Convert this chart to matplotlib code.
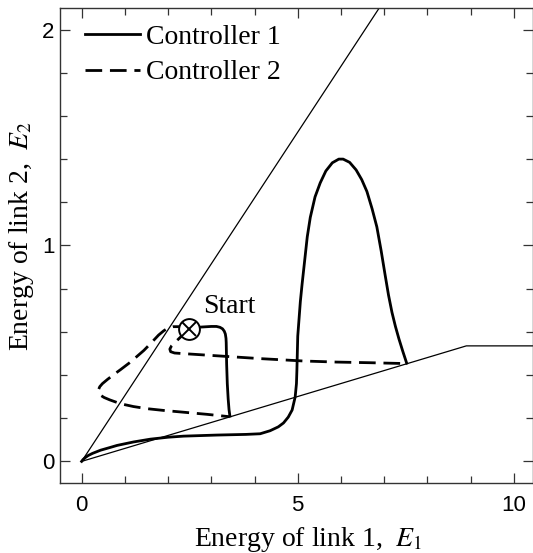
#!/usr/bin/env python3
"""Energy trajectories of the two controllers in the (E1, E2) plane."""

import matplotlib
matplotlib.use("Agg")
import matplotlib.pyplot as plt
from matplotlib.ticker import MultipleLocator

plt.rcParams["font.family"] = ["Liberation Serif", "DejaVu Serif"]
plt.rcParams["mathtext.fontset"] = "stix"

# boundary lines of the region
UPPER_X = [0.0, 7.0]
UPPER_Y = [0.0, 2.135]
LOWER_X = [0.0, 8.9, 10.6]
LOWER_Y = [0.0, 0.535, 0.535]

# controller 1: from the origin over the hump to the lower line
C1_MAIN_X = [0.0, 0.03, 0.08, 0.15, 0.25, 0.44, 0.65, 0.82, 1.2, 1.59, 2.0,
             2.36, 3.13, 3.8, 4.13, 4.36, 4.55, 4.67, 4.78, 4.87, 4.94, 4.97,
             4.98, 4.99, 5.0, 5.03, 5.06, 5.10, 5.16, 5.22, 5.29, 5.40, 5.52,
             5.65, 5.80, 5.95, 6.05, 6.20, 6.35, 6.48, 6.60, 6.72, 6.83, 6.93,
             7.02, 7.10, 7.18, 7.26, 7.34, 7.43, 7.52]
C1_MAIN_Y = [0.0, 0.008, 0.017, 0.027, 0.037, 0.052, 0.064, 0.074, 0.09,
             0.103, 0.112, 0.117, 0.122, 0.125, 0.128, 0.142, 0.16, 0.178,
             0.205, 0.238, 0.298, 0.36, 0.42, 0.50, 0.58, 0.66, 0.74, 0.82,
             0.93, 1.04, 1.13, 1.225, 1.29, 1.345, 1.383, 1.40, 1.40, 1.385,
             1.35, 1.305, 1.25, 1.17, 1.086, 0.975, 0.865, 0.77, 0.69, 0.625,
             0.568, 0.51, 0.455]
# controller 1: from the start point down to the lower line
C1_START_X = [2.49, 2.75, 3.0, 3.12, 3.2, 3.26, 3.30, 3.325, 3.34, 3.345,
              3.355, 3.37, 3.39, 3.41, 3.43]
C1_START_Y = [0.615, 0.622, 0.625, 0.625, 0.621, 0.614, 0.603, 0.59, 0.57,
              0.55, 0.45, 0.36, 0.29, 0.24, 0.21]

# controller 2: loop to the left, then along the lower side
C2_LOOP_X = [2.49, 2.3, 2.12, 2.0, 1.9, 1.78, 1.63, 1.44, 1.13, 0.9, 0.75,
             0.6, 0.48, 0.42, 0.39, 0.40, 0.44, 0.52, 0.65, 0.9, 1.2, 1.52,
             1.9, 2.29, 2.9, 3.42]
C2_LOOP_Y = [0.615, 0.624, 0.624, 0.618, 0.605, 0.585, 0.553, 0.514, 0.46,
             0.425, 0.403, 0.38, 0.36, 0.346, 0.332, 0.318, 0.306, 0.296,
             0.285, 0.267, 0.254, 0.244, 0.236, 0.229, 0.218, 0.207]
# controller 2: short branch then across to the right
C2_RIGHT_X = [2.49, 2.42, 2.30, 2.17, 2.08, 2.04, 2.06, 2.15, 2.29, 2.6,
              3.06, 4.13, 5.13, 5.9, 6.67, 7.52]
C2_RIGHT_Y = [0.615, 0.60, 0.578, 0.553, 0.535, 0.52, 0.508, 0.502, 0.50,
              0.496, 0.49, 0.476, 0.465, 0.46, 0.457, 0.453]

START = (2.49, 0.615)

XLIM = (-0.5, 10.45)
YLIM = (-0.1, 2.1)

fig = plt.figure(figsize=(5.33, 5.53), dpi=100)
ax = fig.add_axes([0.1126, 0.1266, 0.888, 0.859])

thin = dict(color="black", linewidth=0.9)
ax.plot(UPPER_X, UPPER_Y, **thin)
ax.plot(LOWER_X, LOWER_Y, **thin)

dashes = (0, (6.0, 2.8))
ax.plot(C1_MAIN_X, C1_MAIN_Y, color="black", linewidth=2.0,
        solid_joinstyle="round", label="Controller 1")
ax.plot(C1_START_X, C1_START_Y, color="black", linewidth=2.0,
        solid_joinstyle="round")
ax.plot(C2_LOOP_X, C2_LOOP_Y, color="black", linewidth=2.0, linestyle=dashes,
        label="Controller 2")
ax.plot(C2_RIGHT_X, C2_RIGHT_Y, color="black", linewidth=2.0, linestyle=dashes)

ax.plot(*START, marker="o", markersize=15, markerfacecolor="white",
        markeredgecolor="black", markeredgewidth=1.4, zorder=5)
ax.plot(*START, marker="x", markersize=10.5, markeredgecolor="black",
        markeredgewidth=1.4, zorder=6)
ax.text(2.80, 0.686, "Start", fontsize=20, ha="left", va="baseline")

ax.set_xlim(*XLIM)
ax.set_ylim(*YLIM)
ax.xaxis.set_major_locator(MultipleLocator(5))
ax.xaxis.set_minor_locator(MultipleLocator(1))
ax.yaxis.set_major_locator(MultipleLocator(1))
ax.yaxis.set_minor_locator(MultipleLocator(0.2))
ax.tick_params(which="both", direction="in", top=True, right=True,
               width=0.9, color="#333333")
ax.tick_params(which="major", length=7)
ax.tick_params(which="minor", length=5)
ax.tick_params(axis="x", which="major", pad=9)
ax.tick_params(axis="y", which="major", pad=4)
for lab in ax.get_xticklabels() + ax.get_yticklabels():
    lab.set_family("Liberation Sans")
    lab.set_fontsize(16)
for spine in ax.spines.values():
    spine.set_linewidth(1.0)
    spine.set_color("#333333")

ax.set_xlabel("Energy of link 1,  $E_1$", fontsize=20)
ax.set_ylabel("Energy of link 2,  $E_2$", fontsize=20)
ax.xaxis.set_label_coords(0.525, -0.088)
ax.yaxis.set_label_coords(-0.05, 0.52)

ax.legend(loc="upper left", bbox_to_anchor=(0.017, 1.0), frameon=False,
          fontsize=20, handlelength=2.0, handletextpad=0.2,
          labelspacing=0.35, borderaxespad=0.2)

fig.savefig("out.png", dpi=100)
